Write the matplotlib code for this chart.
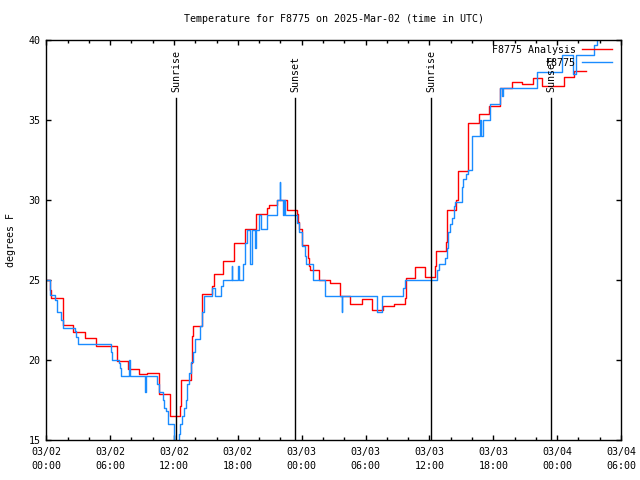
import matplotlib
matplotlib.use("Agg")
import matplotlib.pyplot as plt
from matplotlib.ticker import MultipleLocator
import matplotlib.transforms as mtransforms

# hours since 2025-03-02 00:00 UTC
analisis_t = [0.0, 0.38, 0.45, 1.6, 2.55, 3.62, 4.65, 6.61, 7.65, 8.75, 9.45, 10.55,
              11.62, 12.52, 12.62, 13.6, 13.68, 13.75, 14.6, 15.6, 15.75, 16.64, 17.6,
              17.67, 18.67, 19.71, 20.75, 20.9, 21.7, 22.65, 23.55, 23.65, 23.75, 24.07,
              24.63, 24.72, 24.79, 25.66, 26.66, 27.55, 27.6, 28.54, 29.64, 30.58, 31.67,
              32.68, 33.71, 33.8, 34.65, 35.6, 36.55, 36.63, 37.55, 37.65, 38.5, 38.72,
              39.6, 39.66, 40.7, 41.64, 42.64, 43.74, 44.7, 45.77, 46.6, 48.66, 49.6, 50.7]
analisis_v = [25.0, 24.4, 23.85, 22.2, 21.75, 21.35, 20.9, 19.95, 19.45, 19.1, 19.2, 17.9,
              16.5, 17.1, 18.75, 19.8, 21.5, 22.1, 24.1, 24.6, 25.4, 26.2, 26.8,
              27.3, 28.2, 29.1, 29.5, 29.7, 30.0, 29.4, 29.1, 28.6, 28.2, 27.2,
              26.35, 25.9, 25.6, 25.0, 24.8, 24.4, 24.0, 23.5, 23.8, 23.1, 23.4,
              23.5, 23.9, 25.1, 25.8, 25.2, 25.9, 26.8, 27.4, 29.4, 30.0, 31.8,
              32.6, 34.8, 35.4, 35.9, 37.0, 37.4, 37.25, 37.6, 37.1, 37.7, 38.05, 38.05]

obs_t = [0.0, 0.38, 0.79, 0.97, 1.41, 1.6, 2.67, 2.82, 2.95, 6.05, 6.14, 6.83, 6.93, 7.05,
         7.77, 7.82, 9.28, 9.33, 9.4, 10.4, 10.55, 10.95, 11.05, 11.25, 11.45, 12.0,
         12.47, 12.6, 12.75, 12.9, 13.1, 13.25, 13.4, 13.55, 13.75, 13.98, 14.45, 14.6,
         14.85, 15.54, 15.85, 16.39, 16.58, 17.42, 17.48, 18.05, 18.14, 18.46, 18.68,
         18.83, 19.1, 19.3, 19.65, 19.75, 20.0, 20.15, 20.7, 21.65, 21.95, 22.0, 22.2,
         22.3, 22.45, 23.55, 23.75, 24.0, 24.07, 24.32, 24.38, 25.04, 25.1, 26.2, 27.76,
         27.82, 31.11, 31.52, 33.55, 33.72, 36.69, 36.94, 37.47, 37.63, 37.79, 37.95,
         38.1, 38.3, 38.42, 39.04, 39.2, 39.4, 39.6, 39.98, 40.76, 40.85, 41.01, 41.7,
         42.64, 42.8, 42.9, 46.09, 48.44, 49.53, 49.75, 51.47, 51.73, 52.0]
obs_v = [25.0, 24.05, 23.75, 23.0, 22.5, 22.0, 21.8, 21.45, 21.0, 20.5, 20.0, 19.8, 19.5, 19.0,
         20.0, 19.0, 18.0, 18.7, 19.0, 18.5, 18.0, 17.5, 17.0, 16.8, 16.0, 14.0,
         15.4, 16.0, 16.5, 17.0, 17.5, 18.5, 19.2, 19.9, 20.5, 21.3, 22.1, 23.0,
         24.0, 24.5, 24.0, 24.6, 25.0, 25.9, 25.0, 25.9, 25.0, 26.0, 27.3,
         28.1, 26.0, 28.1, 27.0, 28.1, 29.05, 28.2, 29.05, 30.0, 31.1, 30.0, 29.05,
         30.0, 29.05, 28.55, 28.0, 27.3, 27.1, 26.5, 26.0, 25.6, 25.0, 24.0, 23.0,
         24.0, 23.0, 24.0, 24.5, 25.0, 25.6, 26.0, 26.4, 27.0, 28.0, 28.5,
         28.9, 29.6, 29.9, 30.8, 31.3, 31.6, 31.9, 34.0, 35.0, 34.0, 35.0, 36.0,
         37.0, 36.5, 37.0, 38.0, 39.06, 37.9, 39.06, 39.7, 40.5, 40.5]

sol_t = [12.22, 23.40, 36.18, 47.45]
sol_txt = ["Sunrise", "Sunset", "Sunrise", "Sunset"]

xtick_pos = [0, 6, 12, 18, 24, 30, 36, 42, 48, 54]
xtick_lab = ["03/02\n00:00", "03/02\n06:00", "03/02\n12:00", "03/02\n18:00",
             "03/03\n00:00", "03/03\n06:00", "03/03\n12:00", "03/03\n18:00",
             "03/04\n00:00", "03/04\n06:00"]

plt.rcParams['font.family'] = ['DejaVu Sans Mono']
plt.rcParams['font.size'] = 7.2

fig = plt.figure(figsize=(6.4, 4.8), dpi=100)
ax = fig.add_axes([46.3 / 640, 40 / 480, (621 - 46.3) / 640, 400 / 480])

ax.step(analisis_t, analisis_v, where='post', color='#ff0000', lw=1.0, label='F8775 Analysis')
ax.step(obs_t, obs_v, where='post', color='#1a8cff', lw=1.0, label='F8775')

# lineas de amanecer / atardecer
trans = mtransforms.blended_transform_factory(ax.transData, ax.transAxes)
for t, txt in zip(sol_t, sol_txt):
    ax.plot([t, t], [0, 0.855], color='black', lw=1.0, transform=trans)
    ax.text(t, 0.87, txt, rotation=90, ha='center', va='bottom', transform=trans)

ax.set_xlim(0, 54)
ax.set_ylim(15, 40)
ax.set_xticks(xtick_pos, xtick_lab, linespacing=1.45)
ax.xaxis.set_minor_locator(MultipleLocator(2))
ax.yaxis.set_major_locator(MultipleLocator(5))
ax.tick_params(which='both', direction='in', top=True, right=True, width=1.0)
ax.tick_params(which='major', length=3.5)
ax.tick_params(which='minor', length=2.0)
ax.tick_params(axis='x', pad=5)
ax.tick_params(axis='y', pad=4)
for s in ax.spines.values():
    s.set_linewidth(1.0)

ax.set_ylabel("degrees F", labelpad=9)
ax.text(0.5, 1 + 21 / 400, "Temperature for F8775 on 2025-Mar-02 (time in UTC)",
        transform=ax.transAxes, ha='center', va='center')

ax.legend(loc='upper right', bbox_to_anchor=(1 - 9 / 574.7, 1 - 5 / 400), frameon=False,
          markerfirst=False, handlelength=3.0, handletextpad=0.6, labelspacing=0.3,
          borderaxespad=0, borderpad=0)

fig.savefig("out.png", dpi=100)
